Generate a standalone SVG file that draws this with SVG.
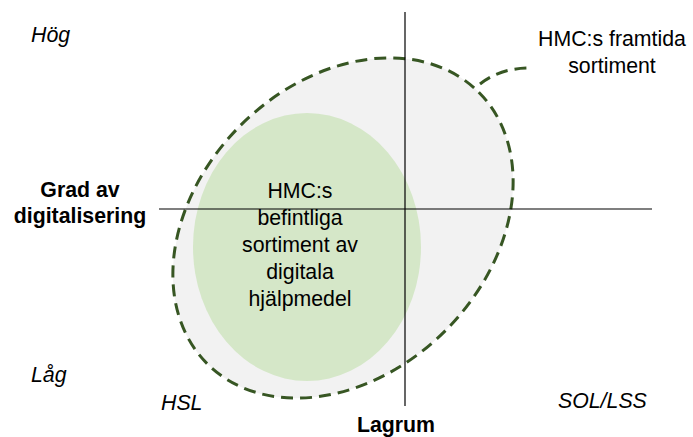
<svg xmlns="http://www.w3.org/2000/svg" width="693" height="437" viewBox="0 0 693 437">
  <style>
    text { font-family: "Liberation Sans", Arial, sans-serif; font-size: 21.3px; fill: #000; }
    .it { font-style: italic; }
    .b { font-weight: bold; }
    .mid { text-anchor: middle; }
    .axis { stroke: #000; stroke-width: 1.2; fill: none; }
    .dash { stroke: #375623; stroke-width: 3; stroke-dasharray: 12 7; fill: none; }
    .outer { fill: #f2f2f2; stroke: none; }
  </style>
  <rect width="693" height="437" fill="#fff"/>
  <g id="future">
    <ellipse cx="343" cy="228" rx="192" ry="145" transform="rotate(-45 343 228)" class="outer"/>
    <ellipse cx="343" cy="228" rx="192" ry="145" transform="rotate(-45 343 228)" class="dash"/>
    <path d="M480 84 Q500 68 530 68" class="dash"/>
    <text class="mid" x="612" y="46">HMC:s framtida</text>
    <text class="mid" x="612" y="73">sortiment</text>
  </g>
  <g id="current">
    <ellipse cx="307" cy="247" rx="114" ry="134" fill="#d5e7c8"/>
  </g>
  <g id="axes">
    <line class="axis" x1="405" y1="12" x2="405" y2="406"/>
    <line class="axis" x1="159" y1="209" x2="652" y2="209"/>
  </g>
  <g id="current-label">
    <text class="mid" x="300" y="198">HMC:s</text>
    <text class="mid" x="300" y="225">befintliga</text>
    <text class="mid" x="300" y="252">sortiment av</text>
    <text class="mid" x="300" y="279">digitala</text>
    <text class="mid" x="300" y="306">hjälpmedel</text>
  </g>
  <g id="labels">
    <text class="b mid" x="80" y="197">Grad av</text>
    <text class="b mid" x="80" y="223">digitalisering</text>
    <text class="it" x="31" y="42">Hög</text>
    <text class="it" x="31" y="382">Låg</text>
    <text class="it" x="161" y="410">HSL</text>
    <text class="it" x="558" y="408">SOL/LSS</text>
    <text class="b mid" x="396" y="432">Lagrum</text>
  </g>
</svg>
